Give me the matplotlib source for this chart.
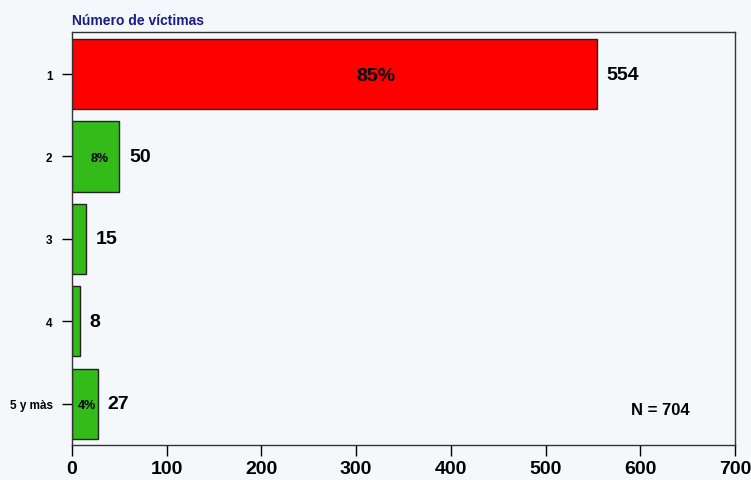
import matplotlib
matplotlib.use('Agg')
from matplotlib import pyplot as plt

plt.rcParams['font.family'] = ['Liberation Sans', 'DejaVu Sans']

categories = ['1', '2', '3', '4', '5 y màs']
counts = [554, 50, 15, 8, 27]
pct_labels = ['85%', '8%', '', '', '4%']
colors = ['#ff0000', '#33bb1a', '#33bb1a', '#33bb1a', '#33bb1a']
xticks = [0, 100, 200, 300, 400, 500, 600, 700]
total = 704

bg = '#f4f8fa'
fig = plt.figure(figsize=(7.51, 4.81), dpi=100, facecolor=bg)
ax = fig.add_axes([0.0959, 0.0728, 0.8828, 0.8586], facecolor=bg)

pos = list(range(len(categories)))
ax.barh(pos, counts, height=0.85, color=colors, edgecolor='#222222', linewidth=1)
ax.set_ylim(4.5, -0.51)
ax.set_xlim(0, 700)

ax.set_yticks(pos)
ax.set_yticklabels(categories, fontsize=8.5, fontweight='bold')
ax.set_xticks(xticks)
ax.set_xticklabels([str(t) for t in xticks], fontsize=14, fontweight='bold')
ax.tick_params(axis='y', length=7, width=1, pad=7)
ax.tick_params(axis='x', length=8, width=1, pad=3)
for s in ax.spines.values():
    s.set_linewidth(1)
    s.set_color('#333333')

for i, (c, p) in enumerate(zip(counts, pct_labels)):
    ax.annotate(str(c), (c, i), xytext=(7, 0), textcoords='offset points',
                va='center', ha='left', fontsize=14, fontweight='bold')
    if p:
        fs = 14 if c > 100 else 9
        ax.text(c * 0.58, i + 0.02, p, va='center', ha='center',
                fontsize=fs, fontweight='bold')

ax.text(0.887, 0.087, 'N = %d' % total, transform=ax.transAxes, ha='center',
        va='center', fontsize=12, fontweight='bold')
fig.text(0.0959, 0.957, 'Número de víctimas', color='#1a1a8c', fontsize=10,
         fontweight='bold', ha='left', va='center')

fig.savefig('out.png', dpi=100, facecolor=bg)
